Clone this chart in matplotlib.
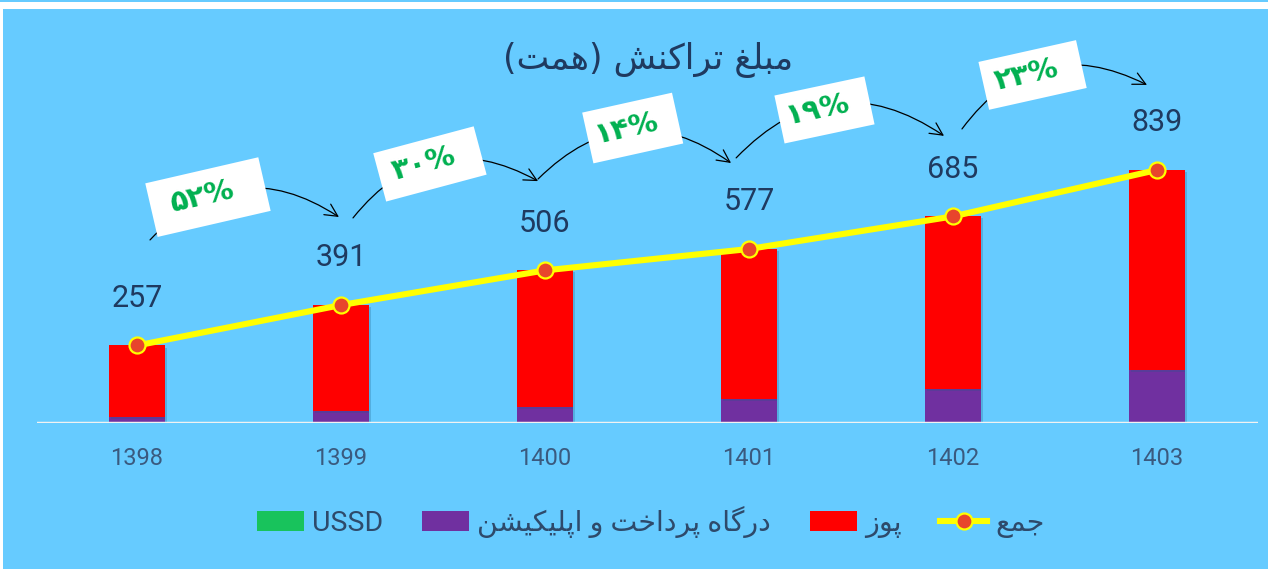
# Transaction amount chart (stacked bars + total line)
import matplotlib
matplotlib.use("Agg")
import matplotlib.pyplot as plt
import matplotlib.transforms as mtransforms
import matplotlib.patheffects as pe
from matplotlib.patches import Rectangle, FancyArrowPatch, Patch
from matplotlib.lines import Line2D

years = ["1398", "1399", "1400", "1401", "1402", "1403"]
pos = [237, 351, 453, 497, 572, 663]
gateway = [20, 40, 53, 80, 113, 176]
ussd = [0, 0, 0, 0, 0, 0]
totals = [257, 391, 506, 577, 685, 839]
growth = ["۵۲%", "۳۰%", "۱۴%", "۱۹%", "۲۳%"]

title_fa = "مبلغ تراکنش (همت)"
legend_fa = ["USSD", "درگاه پرداخت و اپلیکیشن", "پوز", "جمع"]

BG = "#66CBFF"
NAVY = "#1F3A60"
GREEN = "#00B050"

# ----------------------------------------------------------------------------
# minimal Persian shaping (matplotlib has no complex text layout)
FORMS = {
    "ا": ("\uFE8D", "\uFE8E", None, None),
    "ب": ("\uFE8F", "\uFE90", "\uFE91", "\uFE92"),
    "پ": ("\uFB56", "\uFB57", "\uFB58", "\uFB59"),
    "ت": ("\uFE95", "\uFE96", "\uFE97", "\uFE98"),
    "ج": ("\uFE9D", "\uFE9E", "\uFE9F", "\uFEA0"),
    "خ": ("\uFEA5", "\uFEA6", "\uFEA7", "\uFEA8"),
    "د": ("\uFEA9", "\uFEAA", None, None),
    "ر": ("\uFEAD", "\uFEAE", None, None),
    "ز": ("\uFEAF", "\uFEB0", None, None),
    "ش": ("\uFEB5", "\uFEB6", "\uFEB7", "\uFEB8"),
    "ع": ("\uFEC9", "\uFECA", "\uFECB", "\uFECC"),
    "غ": ("\uFECD", "\uFECE", "\uFECF", "\uFED0"),
    "ک": ("\uFB8E", "\uFB8F", "\uFB90", "\uFB91"),
    "گ": ("\uFB92", "\uFB93", "\uFB94", "\uFB95"),
    "ل": ("\uFEDD", "\uFEDE", "\uFEDF", "\uFEE0"),
    "م": ("\uFEE1", "\uFEE2", "\uFEE3", "\uFEE4"),
    "ن": ("\uFEE5", "\uFEE6", "\uFEE7", "\uFEE8"),
    "ه": ("\uFEE9", "\uFEEA", "\uFEEB", "\uFEEC"),
    "و": ("\uFEED", "\uFEEE", None, None),
    "ی": ("\uFBFC", "\uFBFD", "\uFBFE", "\uFBFF"),
}
MIRROR = {"(": ")", ")": "("}


def fa(text):
    if not any(c in FORMS for c in text):
        return text
    out = []
    for i, c in enumerate(text):
        if c not in FORMS:
            out.append(MIRROR.get(c, c))
            continue
        iso, fin, ini, med = FORMS[c]
        prev = text[i - 1] if i > 0 else None
        nxt = text[i + 1] if i + 1 < len(text) else None
        jp = prev in FORMS and FORMS[prev][2] is not None
        jn = nxt in FORMS and ini is not None
        if jp and jn:
            out.append(med)
        elif jp:
            out.append(fin)
        elif jn:
            out.append(ini)
        else:
            out.append(iso)
    return "".join(out)[::-1]


# ----------------------------------------------------------------------------
fig = plt.figure(figsize=(12.68, 5.69), dpi=100, facecolor=BG)
W, H = 1268, 569
fig.add_artist(Rectangle((0, (H - 9) / H), 1, 7 / H, transform=fig.transFigure,
                         fc="white", ec="none"))
fig.add_artist(Rectangle((0, 0), 3 / W, (H - 2) / H, transform=fig.transFigure,
                         fc="white", ec="none"))

ax = fig.add_axes([37 / W, (H - 423) / H, 1221 / W, 414 / H])
ax.set_facecolor("none")
ax.set_xlim(-0.49, 5.495)
ax.set_ylim(0, 414 / 0.3016)
for s in ax.spines.values():
    s.set_visible(False)
ax.set_yticks([])

x = list(range(len(years)))
shadow = [pe.SimplePatchShadow(offset=(1.5, -1.5), alpha=0.25, shadow_rgbFace="#1b5d86"),
          pe.Normal()]
b1 = ax.bar(x, gateway, width=0.275, color="#7030A0", zorder=2)
b2 = ax.bar(x, pos, bottom=gateway, width=0.275, color="#FF0000", zorder=2)
b3 = ax.bar(x, ussd, bottom=totals, width=0.275, color="#18C35C", zorder=2)
for bars in (b1, b2):
    for r in bars:
        r.set_path_effects(shadow)

ax.axhline(0, color="#F2F2F2", lw=2.5, zorder=3,
           path_effects=[pe.SimpleLineShadow(offset=(0, -1.5), alpha=0.25), pe.Normal()])

ax.plot(x, totals, color="#FFFF00", lw=4.4, marker="o", ms=11.5,
        mfc="#E8452C", mec="#FFFF00", mew=1.6, zorder=4)

for xi, v in zip(x, totals):
    ax.annotate(str(v), (xi, v), xytext=(0, 34), textcoords="offset points",
                ha="center", va="center", fontsize=22, color=NAVY,
                family=["Roboto", "DejaVu Sans"])

ax.set_xticks(x)
ax.set_xticklabels(years, fontsize=17, color="#3A5A7F", family="Roboto")
ax.tick_params(axis="x", length=0, pad=17)

# growth arrows and rotated boxes
arrow_xy = [((0.064, 607), (0.990, 683)),
            ((1.059, 680), (1.966, 802)),
            ((1.966, 809), (2.912, 862)),
            ((2.937, 879), (3.956, 952)),
            ((4.044, 975), (4.951, 1121))]
box_xy = [(0.348, 749), (0.436, 859), (0.43, 978), (0.37, 1038), (0.39, 1154)]
box_wh = [(116, 55), (104, 50), (92, 52), (92, 49), (100, 49)]
box_ang = [13, 15, 12.5, 12, 12.6]

for i, lab in enumerate(growth):
    (x0, y0), (x1, y1) = arrow_xy[i]
    ax.add_patch(FancyArrowPatch((x0, y0), (x1, y1), connectionstyle="arc3,rad=-0.42",
                                 arrowstyle="->,head_length=9,head_width=4.5",
                                 color="black", lw=0.9, shrinkA=0, shrinkB=0,
                                 zorder=5, clip_on=False))
    bx, by = box_xy[i]
    bw, bh = box_wh[i]
    cx, cy = i + bx, by
    tr = (mtransforms.Affine2D().rotate_deg(box_ang[i])
          + mtransforms.ScaledTranslation(cx, cy, ax.transData))
    ax.add_patch(Rectangle((-bw / 2, -bh / 2), bw, bh, transform=tr,
                           fc="white", ec="none", zorder=6, clip_on=False))
    ax.text(cx - 0.03, cy, lab, rotation=box_ang[i], ha="center", va="center",
            rotation_mode="anchor", fontsize=21, fontweight="bold", color=GREEN,
            family=["DejaVu Sans"], zorder=7)

fig.text(648 / W, 1 - 60 / H, fa(title_fa), ha="center", va="center",
         fontsize=25, color=NAVY, family=["DejaVu Sans"])

handles = [Patch(fc="#18C35C", ec="none"),
           Patch(fc="#7030A0", ec="none"),
           Patch(fc="#FF0000", ec="none"),
           Line2D([], [], color="#FFFF00", lw=4.4, marker="o", ms=11.5,
                  mfc="#E8452C", mec="#FFFF00", mew=1.6)]
leg = fig.legend(handles, [fa(t) for t in legend_fa], loc="center",
                 bbox_to_anchor=(651 / W, 1 - 522 / H), ncol=4, frameon=False,
                 handlelength=1.65, handleheight=0.7, handletextpad=0.3,
                 columnspacing=1.35, prop={"family": ["Roboto", "DejaVu Sans"], "size": 20.5})
for t in leg.get_texts():
    t.set_color("#2E4A6B")

fig.savefig("out.png", dpi=100, facecolor=BG)
